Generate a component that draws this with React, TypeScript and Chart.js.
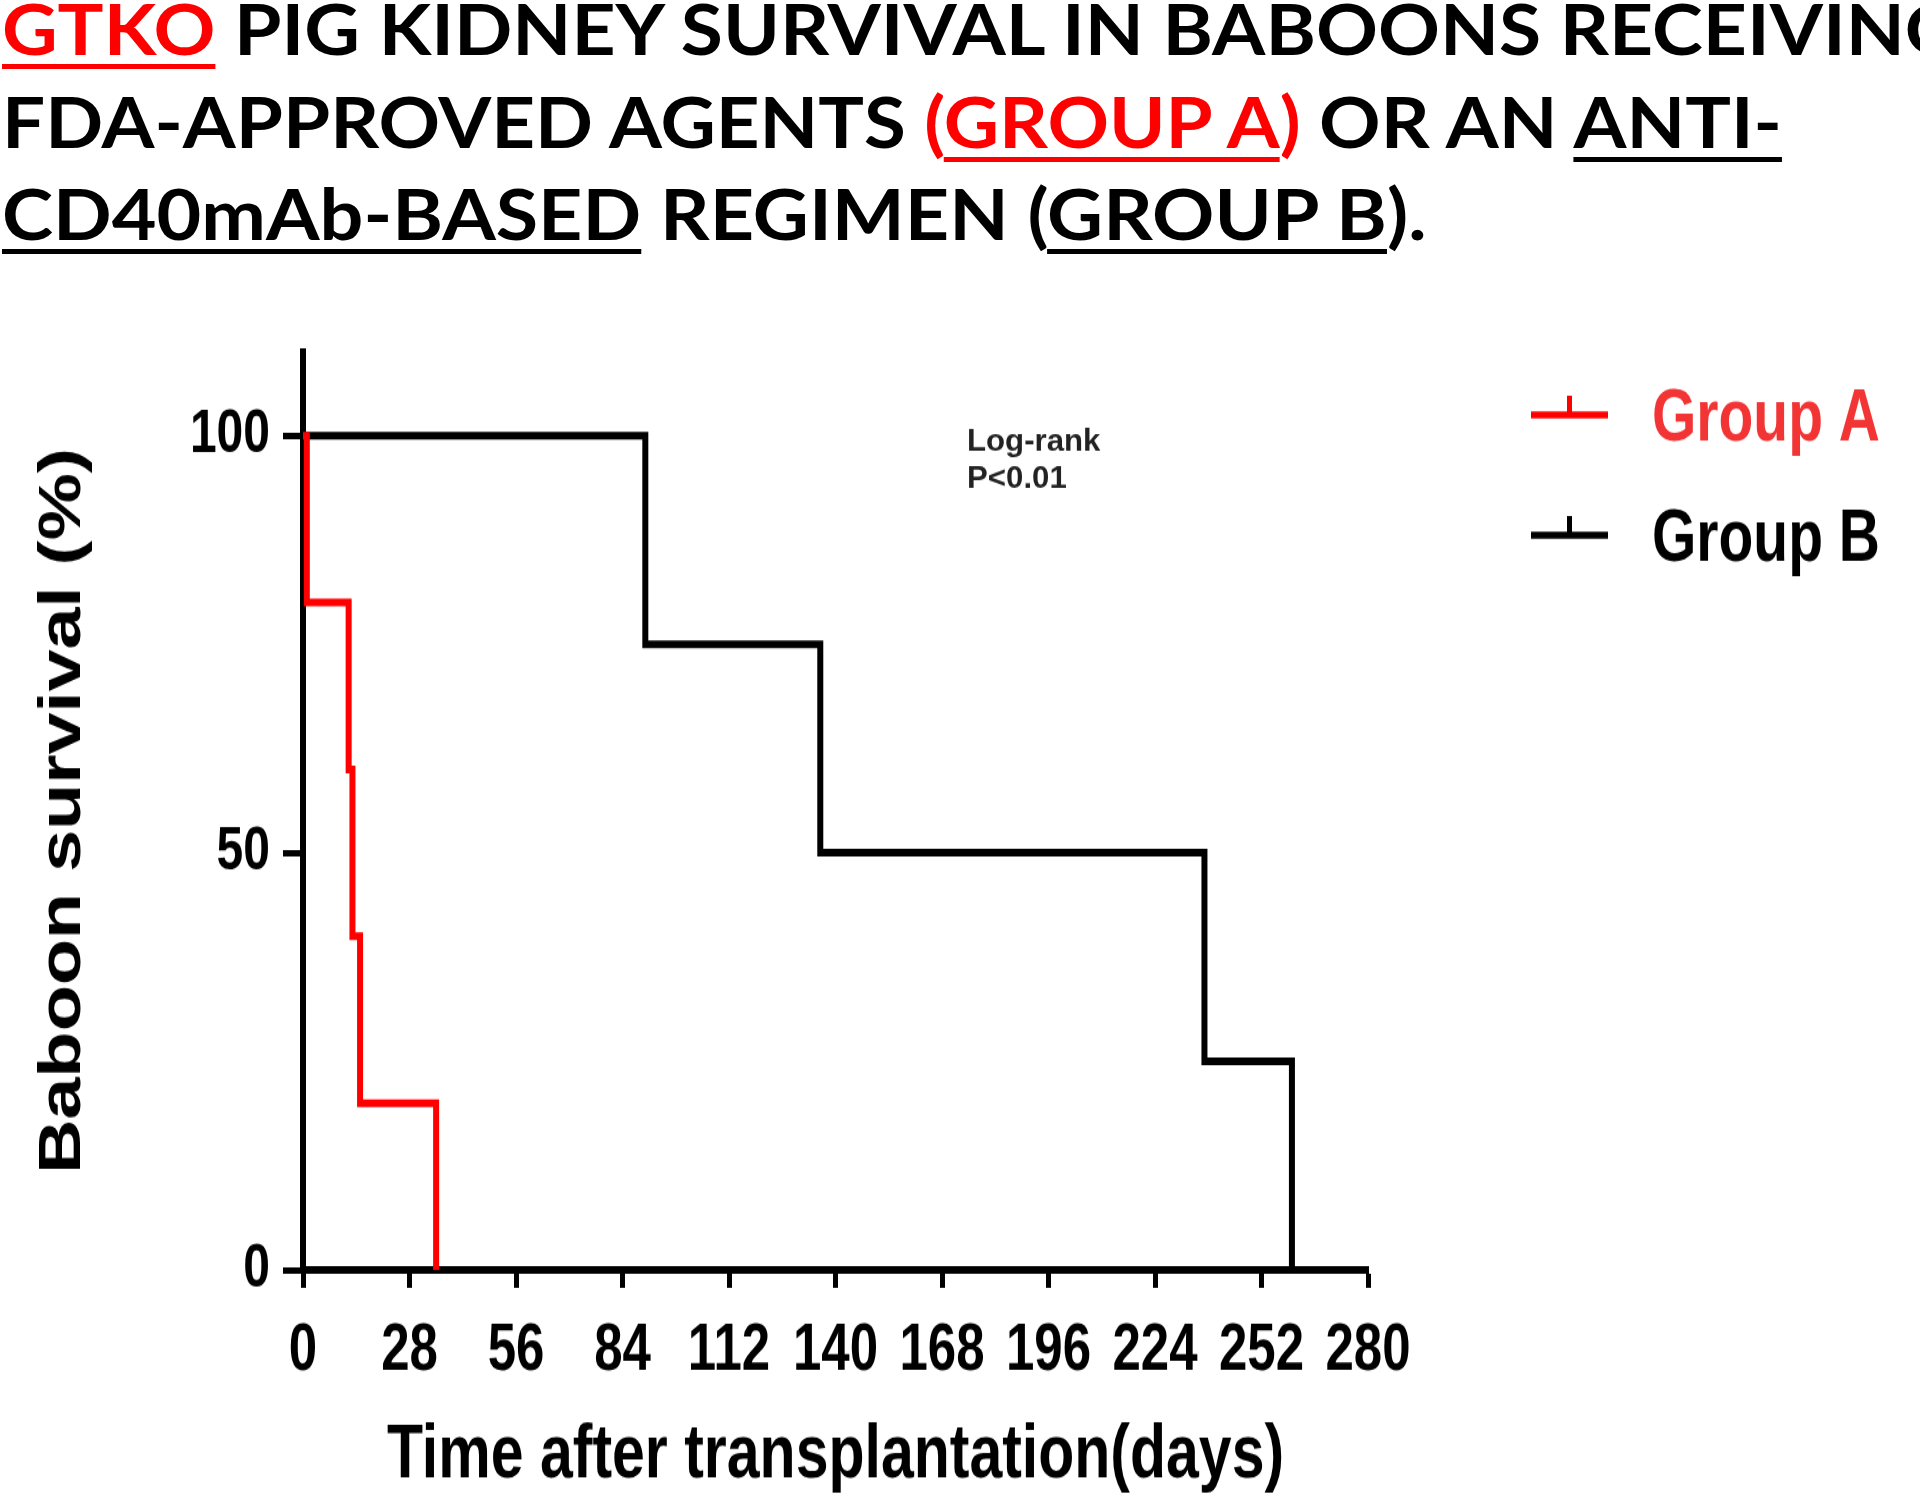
import React, { useEffect, useLayoutEffect, useRef } from 'react';
import { Chart, registerables } from 'chart.js';

Chart.register(...registerables);

// ---------------- data ----------------
const xTicks = [0, 28, 56, 84, 112, 140, 168, 196, 224, 252, 280];
const yTicks = [0, 50, 100];
const seriesNames = ['Group A', 'Group B'];
const seriesColors = ['#ff0000', '#000000'];
const legendTextColors = ['#f23434', '#000000'];
const groupADays = [0, 1, 12, 13, 15, 35];
const groupASurvival = [100, 80, 60, 40, 20, 0];
const groupBDays = [0, 90, 136, 237, 260];
const groupBSurvival = [100, 75, 50, 25, 0];
const statLines = ['Log-rank', 'P<0.01'];
const xTitle = 'Time after transplantation(days)';
const yTitle = 'Baboon survival (%)';

type Seg = { t: string; red?: boolean; u?: boolean };
const titleLines: Seg[][] = [
  [{ t: 'GTKO', red: true, u: true }, { t: ' PIG KIDNEY SURVIVAL IN BABOONS RECEIVING' }],
  [
    { t: 'FDA-APPROVED AGENTS ' },
    { t: '(', red: true },
    { t: 'GROUP A', red: true, u: true },
    { t: ')', red: true },
    { t: ' OR AN ' },
    { t: 'ANTI-', u: true },
  ],
  [{ t: 'CD40mAb-BASED', u: true }, { t: ' REGIMEN (' }, { t: 'GROUP B', u: true }, { t: ').' }],
];
const titleTargetWidths: (number | null)[] = [null, 1780, 1424];
const titleBaselines = [55, 148, 240];

// ---------------- layout constants ----------------
const STRETCH = 1.28;
const CW = 1920;
const CH = 966;
const FONT = '"Liberation Sans", Arial, Helvetica, sans-serif';

function Title() {
  const refs = useRef<Array<HTMLDivElement | null>>([]);
  useLayoutEffect(() => {
    const fit = () => {
      const els = refs.current;
      const widths = els.map((el) => (el ? el.offsetWidth : 0));
      const scales = titleTargetWidths.map((t, i) => (t && widths[i] ? t / widths[i] : null));
      const known = scales.filter((s) => s !== null) as number[];
      const avg = known.reduce((a, b) => a + b, 0) / (known.length || 1);
      els.forEach((el, i) => {
        if (el) el.style.transform = `scaleX(${scales[i] ?? avg})`;
      });
    };
    fit();
    if ((document as any).fonts && (document as any).fonts.ready) {
      (document as any).fonts.ready.then(fit);
    }
  }, []);
  return (
    <>
      {titleLines.map((line, i) => (
        <div
          key={i}
          ref={(el) => {
            refs.current[i] = el;
          }}
          style={{
            position: 'absolute',
            left: 2,
            top: titleBaselines[i] - 62,
            display: 'inline-block',
            whiteSpace: 'nowrap',
            transformOrigin: '0 0',
            fontFamily: 'Lato, "Open Sans", sans-serif',
            fontWeight: 700,
            fontSize: 70,
            lineHeight: '70px',
            color: '#000',
          }}
        >
          {line.map((s, j) => (
            <span
              key={j}
              style={{
                color: s.red ? '#ff0000' : '#000',
                textDecorationLine: s.u ? 'underline' : 'none',
                textDecorationThickness: '5px',
                textUnderlineOffset: '9px',
              }}
            >
              {s.t}
            </span>
          ))}
        </div>
      ))}
    </>
  );
}

const extrasPlugin = {
  id: 'kmExtras',
  afterDraw(chart: any) {
    const ctx = chart.ctx as CanvasRenderingContext2D;
    ctx.save();
    // legend
    chart.data.datasets.forEach((ds: any, i: number) => {
      const y = 121 + i * 94;
      ctx.strokeStyle = ds.borderColor;
      ctx.lineWidth = 5.5;
      ctx.lineCap = 'butt';
      ctx.beginPath();
      ctx.moveTo(1531, y);
      ctx.lineTo(1608, y);
      ctx.stroke();
      ctx.lineWidth = 5;
      ctx.beginPath();
      ctx.moveTo(1569.5, y);
      ctx.lineTo(1569.5, y - 15);
      ctx.stroke();
      ctx.fillStyle = legendTextColors[i];
      ctx.font = `bold 57px ${FONT}`;
      ctx.textBaseline = 'alphabetic';
      ctx.textAlign = 'left';
      ctx.fillText(ds.label, 1652, y + 20);
    });
    // statistics annotation
    ctx.fillStyle = '#222';
    ctx.font = `bold 24px ${FONT}`;
    statLines.forEach((t, i) => {
      ctx.save();
      ctx.translate(967, 149 + i * 28.5);
      ctx.scale(1.3, 1);
      ctx.fillText(t, 0, 0);
      ctx.restore();
    });
    ctx.restore();
  },
};

export default function App() {
  const canvasRef = useRef<HTMLCanvasElement | null>(null);
  useEffect(() => {
    if (!canvasRef.current) return;
    const toPts = (xs: number[], ys: number[]) => xs.map((x, i) => ({ x, y: ys[i] }));
    const chart = new Chart(canvasRef.current, {
      type: 'line',
      data: {
        datasets: [
          {
            label: seriesNames[0],
            data: toPts(groupADays, groupASurvival),
            borderColor: seriesColors[0],
            backgroundColor: seriesColors[0],
            borderWidth: 6,
            stepped: 'before',
            pointRadius: 0,
            fill: false,
            clip: false as any,
            borderJoinStyle: 'miter',
            borderCapStyle: 'butt',
          },
          {
            label: seriesNames[1],
            data: toPts(groupBDays, groupBSurvival),
            borderColor: seriesColors[1],
            backgroundColor: seriesColors[1],
            borderWidth: 6,
            stepped: 'before',
            pointRadius: 0,
            fill: false,
            clip: false as any,
            borderJoinStyle: 'miter',
            borderCapStyle: 'butt',
          },
        ],
      },
      options: {
        responsive: false,
        maintainAspectRatio: false,
        animation: false,
        devicePixelRatio: 1,
        layout: { padding: { left: 0, top: 72, right: CW - 1368, bottom: 0 } },
        plugins: {
          legend: { display: false },
          tooltip: { enabled: false },
          title: { display: false },
        },
        scales: {
          x: {
            type: 'linear',
            position: 'bottom',
            min: 0,
            max: 280,
            afterBuildTicks: (s: any) => {
              s.ticks = xTicks.map((v) => ({ value: v }));
            },
            afterFit: (s: any) => {
              s.height = CH - 789;
            },
            ticks: {
              autoSkip: false,
              maxRotation: 0,
              padding: 19,
              color: '#000',
              font: { family: FONT, size: 51, weight: 'bold' },
              callback: (v: any) => String(v),
            },
            grid: {
              display: true,
              drawOnChartArea: false,
              drawTicks: true,
              tickLength: 14,
              tickWidth: 5,
              tickColor: '#000',
            },
            border: { display: true, width: 6, color: '#000' },
            title: {
              display: true,
              text: xTitle,
              color: '#000',
              font: { family: FONT, size: 59, weight: 'bold', lineHeight: 1 },
              padding: { top: 0, bottom: 2 },
            },
          },
          y: {
            type: 'linear',
            min: 0,
            max: 110,
            afterBuildTicks: (s: any) => {
              s.ticks = yTicks.map((v) => ({ value: v }));
            },
            afterFit: (s: any) => {
              s.width = 303;
            },
            ticks: {
              autoSkip: false,
              padding: 13,
              color: '#000',
              font: { family: FONT, size: 48, weight: 'bold' },
              callback: (v: any) => String(v),
            },
            grid: {
              display: true,
              drawOnChartArea: false,
              drawTicks: true,
              tickLength: 20,
              tickWidth: 5,
              tickColor: '#000',
            },
            border: { display: true, width: 6, color: '#000' },
            title: {
              display: true,
              text: yTitle,
              color: '#000',
              font: { family: FONT, size: 59, weight: 'bold', lineHeight: 1.2 },
              padding: { top: 28, bottom: 0 },
            },
          },
        },
      } as any,
      plugins: [extrasPlugin],
    });
    return () => chart.destroy();
  }, []);

  return (
    <div
      style={{
        position: 'absolute',
        left: 0,
        top: 0,
        width: 1920,
        height: 1497,
        overflow: 'hidden',
        background: '#fff',
      }}
    >
      <Title />
      <div
        style={{
          position: 'absolute',
          left: 0,
          top: 260,
          width: CW,
          height: CH,
          transform: `scaleY(${STRETCH})`,
          transformOrigin: '0 0',
        }}
      >
        <canvas
          ref={canvasRef}
          width={CW}
          height={CH}
          style={{ display: 'block', width: CW, height: CH }}
        />
      </div>
    </div>
  );
}
